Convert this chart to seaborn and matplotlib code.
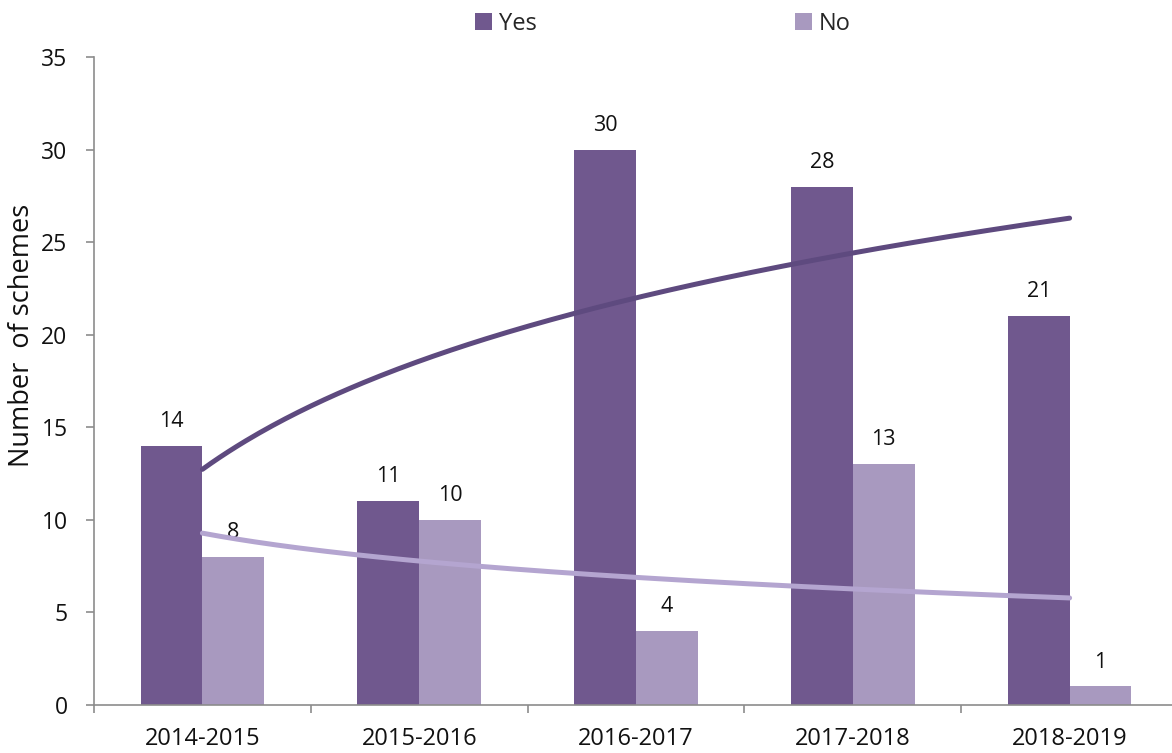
import numpy as np
import pandas as pd
import matplotlib
matplotlib.use("Agg")
import matplotlib.pyplot as plt
import seaborn as sns

# ----------------------
# Data
# ----------------------
years = ["2014-2015", "2015-2016", "2016-2017", "2017-2018", "2018-2019"]
yes_counts = [14, 11, 30, 28, 21]
no_counts = [8, 10, 4, 13, 1]

yes_color = "#70588E"
no_color = "#A899BF"
yes_trend_color = "#5E4A7F"
no_trend_color = "#B4A5D0"
axis_grey = "#8C8C8C"

df = pd.DataFrame({
    "year": years * 2,
    "answer": ["Yes"] * len(years) + ["No"] * len(years),
    "count": yes_counts + no_counts,
})

sns.set_theme(style="white")
plt.rcParams["font.family"] = ["Open Sans", "DejaVu Sans"]

fig = plt.figure(figsize=(11.72, 7.53), dpi=100)
ax = fig.add_axes([94 / 1172, 48 / 753, 1084 / 1172, 648 / 753])

sns.barplot(data=df, x="year", y="count", hue="answer",
            palette={"Yes": yes_color, "No": no_color}, saturation=1,
            width=0.57, linewidth=0, edgecolor="none", ax=ax)

# value labels above bars
for cont in ax.containers:
    ax.bar_label(cont, padding=10, fontsize=15.5, color="#111111")

# logarithmic trend lines (like Excel's log trendline)
xs = np.arange(1, len(years) + 1)
xfine = np.linspace(1, len(years), 200)
for vals, col in [(yes_counts, yes_trend_color), (no_counts, no_trend_color)]:
    b, a = np.polyfit(np.log(xs), vals, 1)
    ax.plot(xfine - 1, a + b * np.log(xfine), color=col, lw=3.6,
            solid_capstyle="round", zorder=5)

# axes styling
ax.set_xlim(-0.5, len(years) - 0.5)
ax.set_ylim(0, 35)
ax.set_yticks(range(0, 36, 5))
ax.set_xlabel("")
ax.set_ylabel("")
for side in ["top", "right"]:
    ax.spines[side].set_visible(False)
for side in ["left", "bottom"]:
    ax.spines[side].set_color(axis_grey)
    ax.spines[side].set_linewidth(1.2)

ax.tick_params(axis="y", which="major", left=True, length=6, width=1.2,
               color=axis_grey, pad=13, labelsize=16.5, labelcolor="#111111")
ax.tick_params(axis="x", which="major", bottom=True, length=0, pad=16,
               labelsize=17, labelcolor="#111111")
ax.set_xticks(np.arange(-0.5, len(years), 1.0), minor=True)
ax.tick_params(axis="x", which="minor", bottom=True, length=6, width=1.2,
               color=axis_grey)

fig.text(22 / 1172, 1 - 335 / 753, "Number  of schemes", rotation=90,
         ha="center", va="center", fontsize=19.5, color="#111111")

sns.move_legend(ax, "center", bbox_to_anchor=(663 / 1172, 1 - 24 / 753),
                bbox_transform=fig.transFigure, ncol=2, frameon=False,
                title=None, fontsize=17, handlelength=0.72, handleheight=0.72,
                handletextpad=0.3, columnspacing=10.9, borderpad=0)

fig.savefig("out.png", dpi=100)
plt.close(fig)
